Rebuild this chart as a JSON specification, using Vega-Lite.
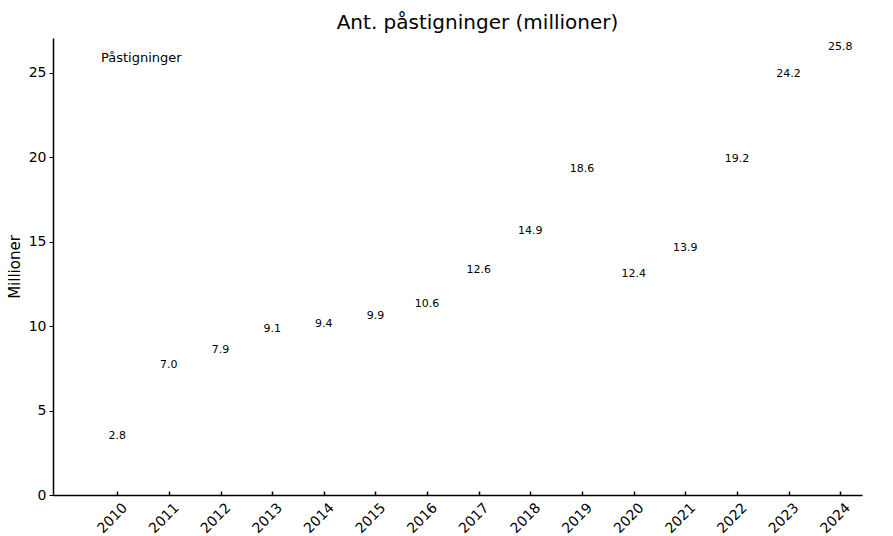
{
  "$schema": "https://vega.github.io/schema/vega-lite/v6.json",
  "autosize": "none",
  "width": 809,
  "height": 457,
  "padding": {"left": 53, "top": 38, "right": 31, "bottom": 41},
  "background": "white",
  "config": {
    "font": "DejaVu Sans",
    "view": {"stroke": null},
    "axis": {"domainColor": "black", "tickColor": "black", "labelColor": "black", "titleColor": "black", "grid": false, "labelFont": "DejaVu Sans", "titleFont": "DejaVu Sans"}
  },
  "title": {"text": "Ant. påstigninger (millioner)", "fontSize": 20, "fontWeight": "normal", "font": "DejaVu Sans", "color": "black", "anchor": "middle", "dx": 20, "offset": 5},
  "data": {
    "values": [
      {"year": 2010, "value": 2.8, "series": "Påstigninger"},
      {"year": 2011, "value": 7.0, "series": "Påstigninger"},
      {"year": 2012, "value": 7.9, "series": "Påstigninger"},
      {"year": 2013, "value": 9.1, "series": "Påstigninger"},
      {"year": 2014, "value": 9.4, "series": "Påstigninger"},
      {"year": 2015, "value": 9.9, "series": "Påstigninger"},
      {"year": 2016, "value": 10.6, "series": "Påstigninger"},
      {"year": 2017, "value": 12.6, "series": "Påstigninger"},
      {"year": 2018, "value": 14.9, "series": "Påstigninger"},
      {"year": 2019, "value": 18.6, "series": "Påstigninger"},
      {"year": 2020, "value": 12.4, "series": "Påstigninger"},
      {"year": 2021, "value": 13.9, "series": "Påstigninger"},
      {"year": 2022, "value": 19.2, "series": "Påstigninger"},
      {"year": 2023, "value": 24.2, "series": "Påstigninger"},
      {"year": 2024, "value": 25.8, "series": "Påstigninger"}
    ]
  },
  "encoding": {
    "x": {
      "field": "year", "type": "quantitative",
      "scale": {"domain": [2008.853, 2024.325], "nice": false, "zero": false},
      "axis": {
        "title": null, "values": [2010,2011,2012,2013,2014,2015,2016,2017,2018,2019,2020,2021,2022,2023,2024],
        "format": "d", "labelAngle": -45, "labelAlign": "center", "labelBaseline": "middle",
        "labelFontSize": 14, "tickSize": -4, "labelPadding": 27, "labelOffset": -5, "domainWidth": 1.5, "tickWidth": 1.5, "labelFlush": false, "labelOverlap": false
      }
    },
    "y": {
      "field": "value", "type": "quantitative",
      "scale": {"domain": [0, 27.07], "nice": false},
      "axis": {"title": "Millioner", "titleFontSize": 15, "titleFontWeight": "normal", "titlePadding": 6, "values": [0,5,10,15,20,25], "labelFontSize": 14, "tickSize": 4, "labelPadding": 3, "domainWidth": 1.5, "tickWidth": 1}
    }
  },
  "layer": [
    {
      "mark": {"type": "bar", "opacity": 0, "width": 30},
      "encoding": {
        "color": {
          "field": "series", "type": "nominal",
          "scale": {"range": ["white"]},
          "legend": {"title": null, "orient": "none", "legendX": 35, "legendY": 13, "symbolSize": 0, "symbolOpacity": 0, "labelFontSize": 13, "labelColor": "black", "labelFont": "DejaVu Sans", "labelOffset": 0}
        }
      }
    },
    {
      "mark": {"type": "text", "fontSize": 11, "dy": -12, "color": "black", "font": "DejaVu Sans"},
      "encoding": {"text": {"field": "value", "type": "quantitative", "format": ".1f"}}
    }
  ]
}
